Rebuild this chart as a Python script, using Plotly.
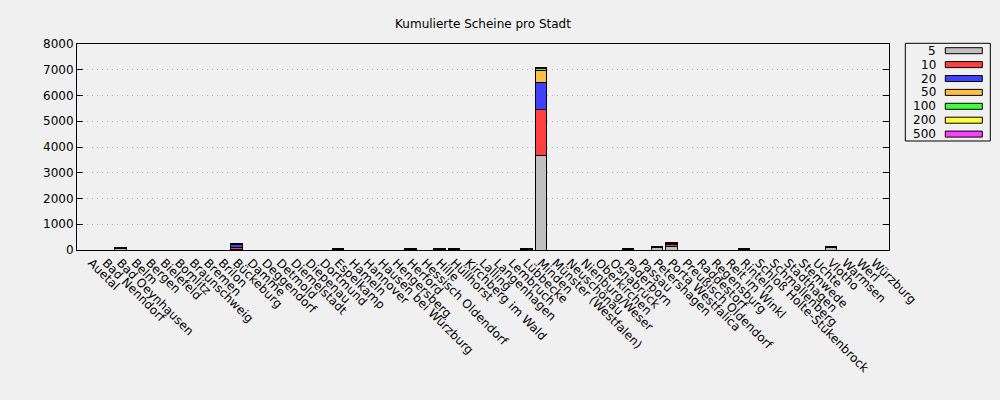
import plotly.graph_objects as go

cities = [
    "Auetal", "Bad Nenndorf", "Bad Oeynhausen", "Belm", "Bergen", "Bielefeld",
    "Bomlitz", "Braunschweig", "Bremen", "Brilon", "Bückeburg", "Damme",
    "Deggendorf", "Detmold", "Diemelstadt", "Diepenau", "Dortmund", "Espelkamp",
    "Hameln", "Hannover", "Hausen bei Würzburg", "Hengersberg", "Herford",
    "Hessisch Oldendorf", "Hille", "Hüllhorst", "Kirchberg im Wald", "Lalling",
    "Langenhagen", "Lembruch", "Lübbecke", "Minden", "Münster (Westfalen)",
    "Neuschönau", "Nienburg/Weser", "Oberkirchen", "Osnabrück", "Paderborn",
    "Passau", "Petershagen", "Porta Westfalica", "Preußisch Oldendorf",
    "Raddestorf", "Regensburg", "Reit im Winkl", "Rinteln",
    "Schloß Holte-Stukenbrock", "Schmallenberg", "Stadthagen", "Stemwede",
    "Uchte", "Vlotho", "Warmsen", "Werl", "Würzburg",
]

series_names = ["5", "10", "20", "50", "100", "200", "500"]

# values per denomination, keyed by city (all others are 0)
v5 = {"Bad Oeynhausen": 50, "Bückeburg": 20, "Espelkamp": 30, "Herford": 30,
      "Hille": 30, "Hüllhorst": 30, "Lübbecke": 30, "Minden": 3660,
      "Paderborn": 30, "Petershagen": 100, "Porta Westfalica": 130,
      "Rinteln": 30, "Vlotho": 100}
v10 = {"Bad Oeynhausen": 30, "Bückeburg": 90, "Espelkamp": 20, "Herford": 20,
       "Hille": 20, "Hüllhorst": 20, "Lübbecke": 20, "Minden": 1780,
       "Paderborn": 20, "Petershagen": 30, "Porta Westfalica": 80,
       "Rinteln": 20, "Vlotho": 30}
v20 = {"Bad Oeynhausen": 20, "Bückeburg": 90, "Espelkamp": 10, "Herford": 10,
       "Hille": 10, "Hüllhorst": 10, "Lübbecke": 10, "Minden": 1070,
       "Paderborn": 10, "Petershagen": 20, "Porta Westfalica": 50,
       "Rinteln": 10, "Vlotho": 20}
v50 = {"Bad Oeynhausen": 10, "Bückeburg": 40, "Minden": 480,
       "Porta Westfalica": 30}
v100 = {"Bückeburg": 10, "Minden": 40, "Porta Westfalica": 10}
v200 = {"Minden": 40}
v500 = {"Minden": 10}

series_values = [v5, v10, v20, v50, v100, v200, v500]
colors = ["#c0c0c0", "#ff4040", "#4040ff", "#ffc040", "#40ff40", "#ffff40", "#ff40ff"]

y_ticks = [0, 1000, 2000, 3000, 4000, 5000, 6000, 7000, 8000]

FONT = "DejaVu Sans"
ML, MR, MT, MB = 77, 111, 44, 150
W, H = 1000, 400
PW, PH = W - ML - MR, H - MT - MB


def px_x(x):
    return (x - ML) / PW


def px_y(y):
    return (H - MB - y) / PH


fig = go.Figure()
for name, vals, col in zip(series_names, series_values, colors):
    fig.add_trace(go.Bar(
        x=cities,
        y=[vals.get(c, 0) for c in cities],
        name=name,
        marker=dict(color=col, line=dict(color="black", width=1)),
        width=0.8,
        showlegend=False,
    ))

# custom gnuplot-style legend (label left, sample box right)
shapes = [dict(type="rect", xref="paper", yref="paper",
               x0=px_x(905.3), x1=px_x(990.3), y0=px_y(141), y1=px_y(43.3),
               line=dict(color="black", width=1), fillcolor="rgba(0,0,0,0)")]
annotations = []
for i, (name, col) in enumerate(zip(series_names, colors)):
    yc = 50.7 + 13.9 * i
    annotations.append(dict(
        text=name, xref="paper", yref="paper", x=px_x(937.5), y=px_y(yc),
        xanchor="right", yanchor="middle", showarrow=False,
        font=dict(family=FONT, size=12, color="black")))
    shapes.append(dict(type="rect", xref="paper", yref="paper",
                       x0=px_x(945.3), x1=px_x(982.3),
                       y0=px_y(yc + 3), y1=px_y(yc - 3),
                       line=dict(color="black", width=1), fillcolor=col))

fig.update_layout(
    width=W, height=H,
    barmode="stack",
    bargap=0.2,
    paper_bgcolor="#f0f0f0",
    plot_bgcolor="#f0f0f0",
    margin=dict(l=ML, r=MR, t=MT, b=MB, autoexpand=False),
    font=dict(family=FONT, size=12, color="black"),
    title=dict(text="Kumulierte Scheine pro Stadt", x=0.5, xref="paper",
               y=1 - 23.5 / H, yanchor="middle", yref="container",
               font=dict(family=FONT, size=12, color="black")),
    shapes=shapes,
    annotations=annotations,
    showlegend=False,
)

fig.update_xaxes(
    type="category", range=[-1, len(cities)],
    showline=True, mirror=True, linecolor="black", linewidth=1,
    ticks="", tickangle=45, showgrid=False,
    tickfont=dict(family=FONT, size=12, color="black"),
)
fig.update_yaxes(
    range=[0, 8000], tickvals=y_ticks,
    showline=True, mirror="ticks", linecolor="black", linewidth=1,
    ticks="inside", ticklen=6, tickcolor="black",
    showgrid=True, gridcolor="#b4b4b4", griddash="1px,4px", gridwidth=1,
    zeroline=False,
    tickfont=dict(family=FONT, size=12, color="black"),
)

fig.write_html(
    "out.html",
    config={"displayModeBar": False},
    post_script="document.body.style.margin='0px';document.body.style.overflow='hidden';",
)
